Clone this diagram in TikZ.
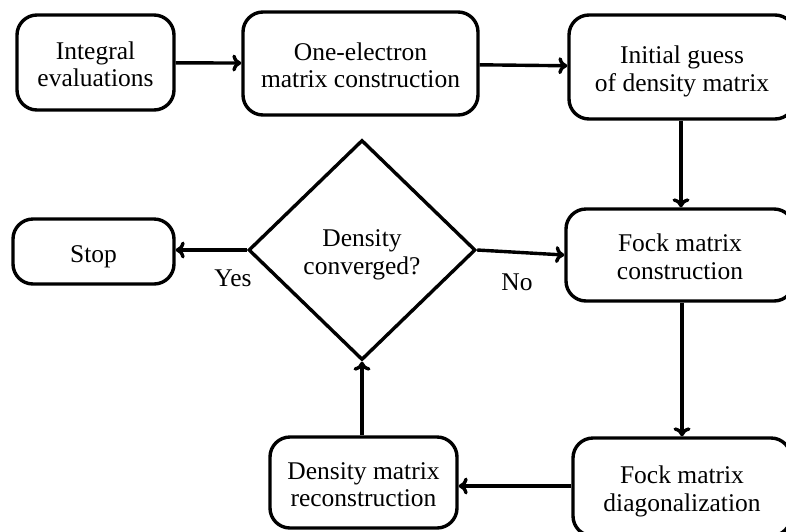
\documentclass[tikz,border=0pt]{standalone}
\usepackage{fontspec}
\setmainfont{Liberation Serif}
\usetikzlibrary{shapes.geometric,arrows.meta}
\newcommand\boxtext[1]{\raisebox{-5pt}[\height][\depth]{\begin{tabular}{@{}c@{}}#1\end{tabular}}}
\tikzset{
  txt/.style={font=\fontsize{25.5}{27.6}\selectfont},
  box/.style={draw, line width=3.4pt, rounded corners=20pt, align=center, inner sep=0pt, txt},
  decision/.style={draw, line width=3.4pt, diamond, align=center, inner sep=0pt, txt},
  lbl/.style={txt, inner sep=0pt},
  conn/.style={line width=3.4pt, -{To[length=9pt,width=17pt,line width=3.4pt]}},
}
\begin{document}
\begin{tikzpicture}[x=1pt,y=-1pt]
\useasboundingbox (0,0) rectangle (786,531);
\clip (0,0) rectangle (786,531);
\node[box, minimum width=157pt, minimum height=95pt] (int) at (95.5,62.5) {\boxtext{Integral\\evaluations}};
\node[box, minimum width=235pt, minimum height=103pt] (one) at (360.5,63.5) {\boxtext{One-electron\\matrix construction}};
\node[box, minimum width=226pt, minimum height=104pt] (init) at (682,67) {\boxtext{Initial guess\\of density matrix}};
\node[box, minimum width=228pt, minimum height=92pt] (fockc) at (680,255) {\boxtext{Fock matrix\\construction}};
\node[box, minimum width=218pt, minimum height=98pt] (fockd) at (682,487) {\boxtext{Fock matrix\\diagonalization}};
\node[box, minimum width=187pt, minimum height=91pt] (rec) at (363.5,482.5) {\boxtext{Density matrix\\reconstruction}};
\node[box, minimum width=161pt, minimum height=65pt] (stop) at (93.5,251.5) {\boxtext{Stop}};
\node[decision, minimum width=227pt, minimum height=220pt, aspect=1.03] (dec) at (362,250) {\boxtext{Density\\converged?}};
\node[lbl] (yes) at (233,278) {Yes};
\node[lbl] (no) at (517,282) {No};
\draw[conn] (int) -- (one);
\draw[conn] (one) -- (init);
\draw[conn] (init.south -| 681,0) -- (fockc.north -| 681,0);
\draw[conn] (fockc.south -| 682,0) -- (fockd.north -| 682,0);
\draw[conn] (fockd.west |- 0,486) -- (rec.east |- 0,486);
\draw[conn] (rec.north -| 362,0) -- (dec.south);
\draw[conn] (dec.west) -- (stop.east |- dec.west);
\draw[conn] (dec.east) -- (fockc.west);
\end{tikzpicture}
\end{document}
